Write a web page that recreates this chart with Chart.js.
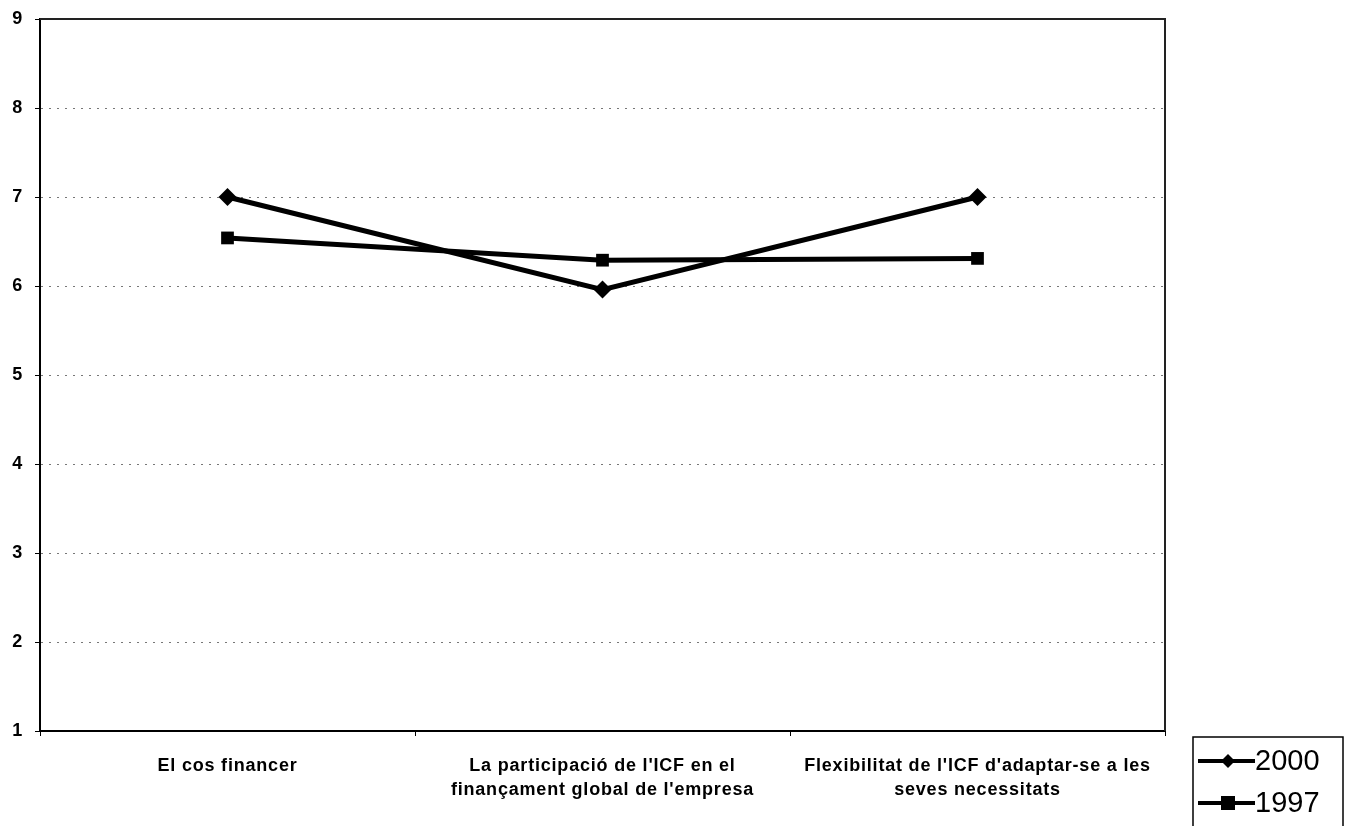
<!DOCTYPE html>
<html>
<head>
<meta charset="utf-8">
<script src="https://cdn.jsdelivr.net/npm/chart.js@4/dist/chart.umd.min.js"></script>
<style>
  html, body { margin: 0; padding: 0; background: #fff; }
  canvas { display: block; }
</style>
</head>
<body>
<canvas id="chart" width="1349" height="826"></canvas>
<script>
// Categories (multi-line tick labels)
const categories = [
  ["El cos financer"],
  ["La participació de l'ICF en el", "finançament global de l'empresa"],
  ["Flexibilitat de l'ICF d'adaptar-se a les", "seves necessitats"]
]

// Series values
const seriesLabels = ["2000", "1997"]
const values2000 = [7.0, 5.96, 7.0]
const values1997 = [6.54, 6.29, 6.31]

// Y axis range
const yMin = 1
const yMax = 9
const yStep = 1

const FONT = "'Liberation Sans', Arial, sans-serif"

// slightly wider lettering for the axis labels
const spacing = {
  id: "spacing",
  beforeDraw(chart) { chart.ctx.letterSpacing = "0.8px" },
  afterDatasetsDraw(chart) { chart.ctx.letterSpacing = "0px" }
}

// frame around the plot area (top and right edges)
const frame = {
  id: "frame",
  afterDraw(chart) {
    const { ctx, chartArea: a } = chart
    ctx.save()
    ctx.strokeStyle = "#222"
    ctx.lineWidth = 2
    ctx.beginPath()
    ctx.moveTo(a.left, a.top)
    ctx.lineTo(a.right, a.top)
    ctx.lineTo(a.right, a.bottom)
    ctx.stroke()
    ctx.restore()
  }
}

// legend box in the lower right corner
const boxLegend = {
  id: "boxLegend",
  afterDraw(chart) {
    const { ctx } = chart
    const x = 1193, y = 737, w = 150, h = 95
    ctx.save()
    ctx.letterSpacing = "0px"
    ctx.strokeStyle = "#000"
    ctx.lineWidth = 1.5
    ctx.strokeRect(x, y, w, h)
    chart.data.datasets.forEach((ds, i) => {
      const cy = y + 24 + i * 42
      ctx.strokeStyle = "#000"
      ctx.lineWidth = 4
      ctx.beginPath()
      ctx.moveTo(x + 5, cy)
      ctx.lineTo(x + 62, cy)
      ctx.stroke()
      ctx.fillStyle = "#000"
      const mx = x + 35
      if (ds.pointStyle === "rectRot") {
        ctx.beginPath()
        ctx.moveTo(mx, cy - 7)
        ctx.lineTo(mx + 7, cy)
        ctx.lineTo(mx, cy + 7)
        ctx.lineTo(mx - 7, cy)
        ctx.closePath()
        ctx.fill()
      } else {
        ctx.fillRect(mx - 7, cy - 7, 14, 14)
      }
      ctx.font = "29px " + FONT
      ctx.textBaseline = "middle"
      ctx.fillText(ds.label, x + 62, cy + 1)
    })
    ctx.restore()
  }
}

new Chart(document.getElementById("chart"), {
  type: "line",
  data: {
    labels: categories,
    datasets: [
      {
        label: seriesLabels[0],
        data: values2000,
        borderColor: "#000",
        backgroundColor: "#000",
        borderWidth: 5,
        pointStyle: "rectRot",
        pointRadius: 9,
        pointBorderWidth: 0,
        tension: 0
      },
      {
        label: seriesLabels[1],
        data: values1997,
        borderColor: "#000",
        backgroundColor: "#000",
        borderWidth: 5,
        pointStyle: "rect",
        pointRadius: 9,
        pointBorderWidth: 0,
        tension: 0
      }
    ]
  },
  options: {
    responsive: false,
    animation: false,
    layout: { padding: { top: 19, right: 184, left: 0, bottom: 0 } },
    plugins: {
      legend: { display: false },
      tooltip: { enabled: false }
    },
    scales: {
      x: {
        offset: true,
        afterFit: (s) => { s.height = 95 },
        border: { color: "#000", width: 2 },
        grid: {
          offset: true,
          drawOnChartArea: false,
          drawTicks: true,
          tickLength: 5,
          tickColor: "#000"
        },
        ticks: {
          color: "#000",
          font: { family: FONT, size: 18, weight: "bold", lineHeight: 1.333 },
          padding: 18,
          maxRotation: 0,
          autoSkip: false
        }
      },
      y: {
        min: yMin,
        max: yMax,
        afterFit: (s) => {
          s.width = 40
          s.paddingTop = 0
          s.paddingBottom = 0
        },
        border: { color: "#000", width: 2, dash: [2, 6] },
        grid: {
          color: "#777",
          lineWidth: 1,
          tickColor: "#000",
          tickLength: 5,
          tickBorderDash: []
        },
        ticks: {
          stepSize: yStep,
          color: "#000",
          font: { family: FONT, size: 18, weight: "bold" },
          padding: 12
        }
      }
    }
  },
  plugins: [spacing, frame, boxLegend]
})
</script>
</body>
</html>
